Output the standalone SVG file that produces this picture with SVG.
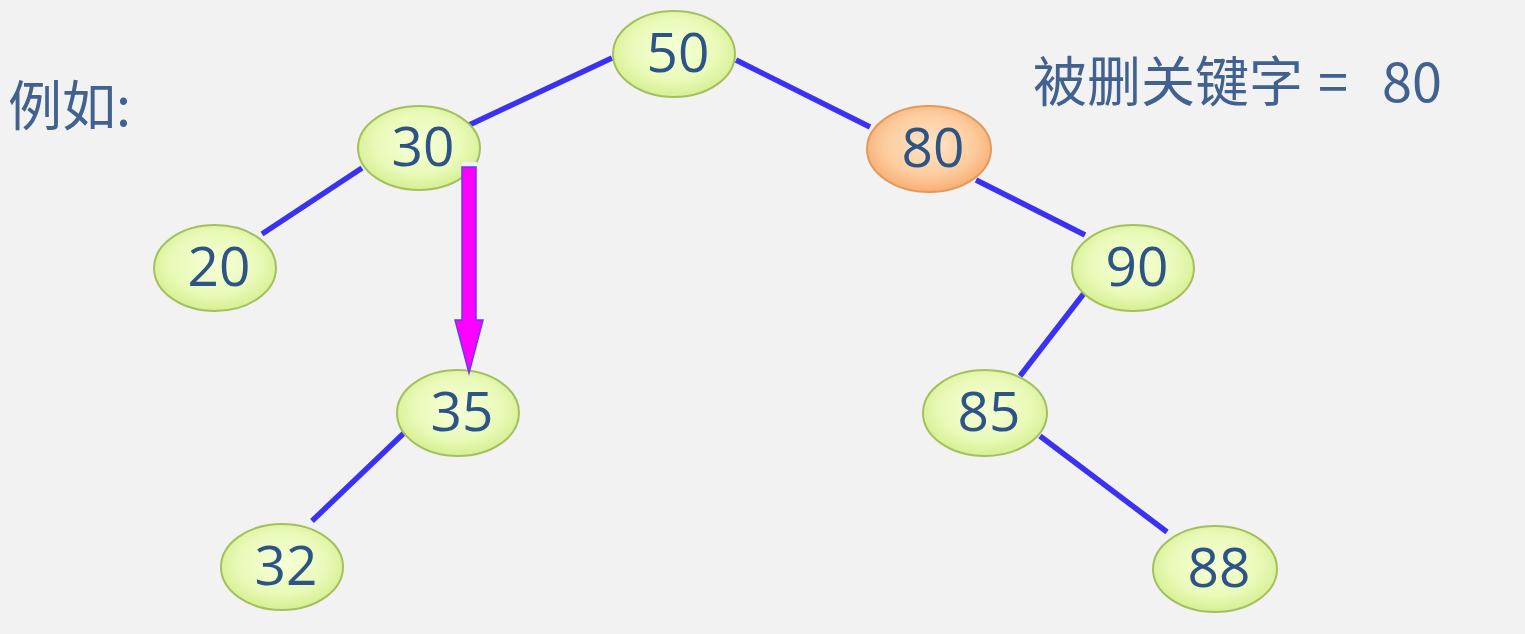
<svg xmlns="http://www.w3.org/2000/svg" width="1525" height="634" viewBox="0 0 1525 634">
<defs>
<radialGradient id="gGreen" cx="50%" cy="45%" r="60%">
<stop offset="0" stop-color="#f6ffd8"/>
<stop offset="0.6" stop-color="#e9fab8"/>
<stop offset="1" stop-color="#d0ec88"/>
</radialGradient>
<radialGradient id="gOrange" cx="50%" cy="45%" r="60%">
<stop offset="0" stop-color="#ffe4c8"/>
<stop offset="0.6" stop-color="#fdcc9e"/>
<stop offset="1" stop-color="#f7a66a"/>
</radialGradient>
<style>
.n ellipse{fill:url(#gGreen);stroke:#a4c05e;stroke-width:2}
.n.hl ellipse{fill:url(#gOrange);stroke:#e39a5c}
.n text{font-family:"Open Sans","Noto Sans",sans-serif;font-size:55px;fill:#2e5486;text-anchor:middle}
.edge{stroke:#3a32f0;stroke-width:5.5;stroke-linecap:butt}
.lbl{font-family:"Noto Sans CJK SC","Noto Sans",sans-serif;font-size:54px;fill:#41618f}
</style>
</defs>
<rect width="1525" height="634" fill="#f2f2f2"/>
<g id="connectors">
<line class="edge" x1="612" y1="58" x2="467" y2="126"/>
<line class="edge" x1="736" y1="60" x2="870" y2="127"/>
<line class="edge" x1="362" y1="168" x2="262" y2="234"/>
<line class="edge" x1="976" y1="180" x2="1085" y2="235"/>
<line class="edge" x1="1085" y1="292" x2="1020" y2="376"/>
<line class="edge" x1="404" y1="433" x2="312" y2="521"/>
<line class="edge" x1="1040" y1="436" x2="1167" y2="532"/>
</g>
<g id="n50" class="n"><ellipse cx="674" cy="54" rx="61" ry="43"/><text x="678" y="72">50</text></g>
<g id="n30" class="n"><ellipse cx="419" cy="148" rx="61" ry="42"/><text x="423" y="166">30</text></g>
<g id="n80" class="n hl"><ellipse cx="929" cy="149" rx="62" ry="43"/><text x="933" y="167">80</text></g>
<g id="n20" class="n"><ellipse cx="215" cy="268" rx="61" ry="43"/><text x="219" y="286">20</text></g>
<g id="n90" class="n"><ellipse cx="1133" cy="268" rx="61" ry="43"/><text x="1137" y="286">90</text></g>
<g id="n35" class="n"><ellipse cx="458" cy="413" rx="61" ry="43"/><text x="462" y="431">35</text></g>
<g id="n85" class="n"><ellipse cx="985" cy="413" rx="62" ry="43"/><text x="989" y="431">85</text></g>
<g id="n32" class="n"><ellipse cx="282" cy="567" rx="61" ry="43"/><text x="286" y="585">32</text></g>
<g id="n88" class="n"><ellipse cx="1215" cy="569" rx="62" ry="43"/><text x="1219" y="587">88</text></g>
<g id="arrow">
<rect x="462" y="162" width="15" height="6" fill="#f2f2f2"/>
<polygon points="462,167 476,167 476,320 483,320 469,373 455,320 462,320" fill="#ff00ff" stroke="#6a3af0" stroke-width="1.5"/>
</g>
<g id="labels">
<text class="lbl" x="8" y="126" font-size="50">例如:</text>
<text class="lbl" x="1033" y="102">被删关键字</text>
<text class="lbl" x="1333" y="102" text-anchor="middle">=</text>
<text class="lbl" x="1382" y="102">80</text>
</g>
</svg>
